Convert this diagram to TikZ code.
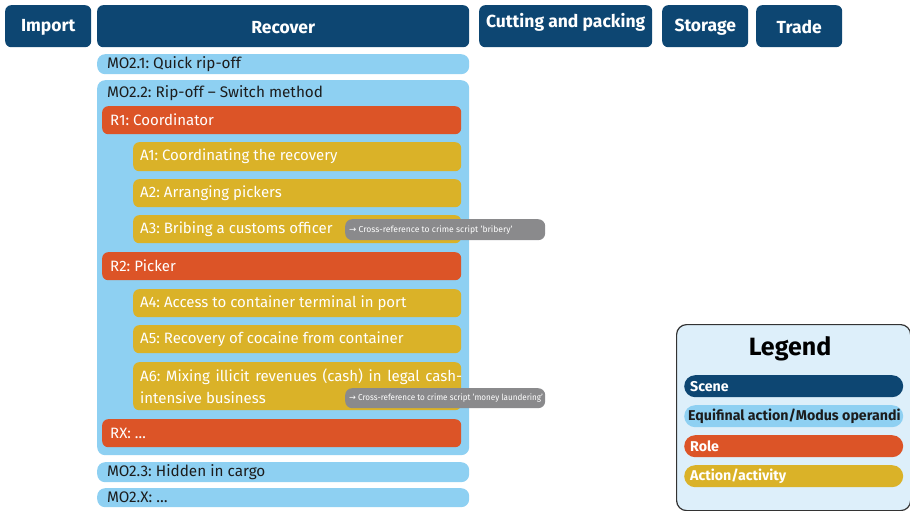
\documentclass[tikz,border=0pt]{standalone}
\usepackage{fontspec}
\setmainfont{Fira Sans}
\newfontfamily\symfont{DejaVu Sans}
\frenchspacing
\definecolor{scenecol}{HTML}{0D4672}
\definecolor{mocol}{HTML}{8ED0F2}
\definecolor{rolecol}{HTML}{DC5427}
\definecolor{actcol}{HTML}{DAB228}
\definecolor{xrefcol}{HTML}{8A8A8C}
\definecolor{legfill}{HTML}{DDEFFA}
\definecolor{inkcol}{HTML}{1C1C1C}
\tikzset{
  bar/.style={draw=none, rectangle, inner sep=0pt, anchor=north west},
  scenebox/.style={bar, fill=scenecol, rounded corners=6pt},
  mobox/.style={bar, fill=mocol, rounded corners=8pt},
  rolebox/.style={bar, fill=rolecol, rounded corners=6pt},
  actbox/.style={bar, fill=actcol, rounded corners=6pt},
  xrefbox/.style={bar, fill=xrefcol, rounded corners=7pt},
  legbar/.style={bar, rounded corners=11pt},
  headtxt/.style={text=white, font=\fontsize{17.5}{20}\selectfont\bfseries},
  motxt/.style={anchor=west, inner sep=0pt, text=inkcol, font=\fontsize{15.3}{22}\selectfont},
  roletxt/.style={anchor=west, inner sep=0pt, text=white, font=\fontsize{15}{22}\selectfont},
  xreftxt/.style={anchor=west, inner sep=0pt, text=white, font=\fontsize{8.6}{10}\selectfont},
  legtxt/.style={anchor=west, inner sep=0pt, font=\fontsize{14.2}{16}\selectfont\bfseries},
}
% box from (x1,y1) to (x2,y2) in pixel-like units
\newcommand{\pbox}[6]{\node[#1, minimum width={(#5-#3)*1pt}, minimum height={(#6-#4)*1pt}] (#2) at (#3,#4) {};}
\begin{document}
\begin{tikzpicture}[x=1pt,y=-1pt]
\useasboundingbox (0,0) rectangle (910,511);

% scenes
\pbox{scenebox}{imp}{5}{5}{91}{47}
\pbox{scenebox}{rec}{97}{5}{469}{47}
\pbox{scenebox}{cut}{479}{5}{652}{47}
\pbox{scenebox}{sto}{662}{5}{748}{47}
\pbox{scenebox}{tra}{756}{5}{842}{47}
\node[headtxt, yshift=-1pt] (impt) at (imp.center) {Import};
\node[headtxt, yshift=-1pt] (rect) at (rec.center) {Recover};
\node[headtxt, yshift=4pt] (cutt) at (cut.center) {Cutting and packing};
\node[headtxt, yshift=-1pt] (stot) at (sto.center) {Storage};
\node[headtxt, yshift=-1pt] (trat) at (tra.center) {Trade};

% modus operandi
\pbox{mobox}{mo1}{97}{54}{469}{74}
\node[motxt] (mo1t) at ([xshift=10pt]mo1.west) {MO2.1: Quick rip-off};
\pbox{mobox}{mo2}{97}{80}{469}{455}
\node[motxt] (mo2t) at (107,93) {MO2.2: Rip-off – Switch method};

% roles and activities
\pbox{rolebox}{r1}{102}{106}{461}{134}
\node[roletxt] (r1t) at ([xshift=8pt]r1.west) {R1: Coordinator};
\pbox{actbox}{a1}{133}{142}{461}{171}
\node[roletxt] (a1t) at ([xshift=7pt]a1.west) {A1: Coordinating the recovery};
\pbox{actbox}{a2}{133}{179}{461}{207}
\node[roletxt] (a2t) at ([xshift=7pt]a2.west) {A2: Arranging pickers};
\pbox{actbox}{a3}{133}{215}{461}{243}
\node[roletxt] (a3t) at ([xshift=7pt]a3.west) {A3: Bribing a customs officer};

\pbox{rolebox}{r2}{102}{252}{461}{280}
\node[roletxt] (r2t) at ([xshift=8pt]r2.west) {R2: Picker};
\pbox{actbox}{a4}{133}{289}{461}{317}
\node[roletxt] (a4t) at ([xshift=7pt]a4.west) {A4: Access to container terminal in port};
\pbox{actbox}{a5}{133}{325}{461}{353}
\node[roletxt] (a5t) at ([xshift=7pt]a5.west) {A5: Recovery of cocaine from container};
\pbox{actbox}{a6}{133}{362}{461}{410}
\node[roletxt, align=justify, text width=322pt] (a6t) at ([xshift=7pt]a6.west) {A6: Mixing illicit revenues (cash) in legal cash-\linebreak intensive business};

\pbox{rolebox}{rx}{102}{419}{461}{447}
\node[roletxt] (rxt) at ([xshift=8pt]rx.west) {RX: \dots};

% cross-references
\pbox{xrefbox}{x1}{345}{219}{545}{240}
\node[xreftxt] (x1t) at ([xshift=4pt]x1.west) {{\symfont →} Cross-reference to crime script 'bribery'};
\pbox{xrefbox}{x2}{345}{388}{545}{408}
\node[xreftxt] (x2t) at ([xshift=4pt]x2.west) {\scalebox{0.94}[1]{{\symfont →} Cross-reference to crime script 'money laundering'}};

% further modus operandi
\pbox{mobox}{mo3}{97}{462}{469}{482}
\node[motxt] (mo3t) at ([xshift=10pt]mo3.west) {MO2.3: Hidden in cargo};
\pbox{mobox}{mox}{97}{488}{469}{507}
\node[motxt] (moxt) at ([xshift=10pt]mox.west) {MO2.X: \dots};

% legend
\node[bar, draw=inkcol!90, line width=1.2pt, fill=legfill, rounded corners=10pt,
      minimum width=234pt, minimum height=186pt] (leg) at (676,324) {};
\node[font=\fontsize{25}{28}\selectfont\bfseries, text=black] (legt) at (790,349) {Legend};
\pbox{legbar, fill=scenecol}{l1}{684}{375}{903}{397}
\node[legtxt, text=white] (l1t) at ([xshift=6pt]l1.west) {Scene};
\pbox{legbar, fill=mocol}{l2}{684}{405}{903}{427}
\node[legtxt, text=inkcol] (l2t) at ([xshift=4pt]l2.west) {Equifinal action/Modus operandi};
\pbox{legbar, fill=rolecol}{l3}{684}{435}{903}{457}
\node[legtxt, text=white] (l3t) at ([xshift=6pt]l3.west) {Role};
\pbox{legbar, fill=actcol}{l4}{684}{465}{903}{487}
\node[legtxt, text=white] (l4t) at ([xshift=6pt]l4.west) {Action/activity};
\end{tikzpicture}
\end{document}
